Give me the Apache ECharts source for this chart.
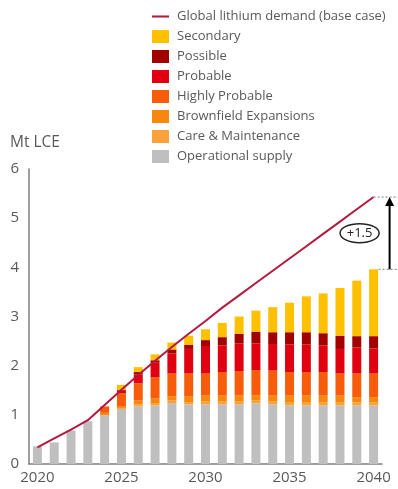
<!DOCTYPE html>
<html>
<head>
<meta charset="utf-8">
<script src="https://cdn.jsdelivr.net/npm/echarts@6/dist/echarts.min.js"></script>
<style>
  html, body { margin: 0; padding: 0; background: #fff; }
  #chart { width: 398px; height: 489px; }
</style>
</head>
<body>
<div id="chart"></div>
<script>
// Lithium supply outlook vs. demand, Mt LCE
const years = ['2020','2021','2022','2023','2024','2025','2026','2027','2028','2029','2030',
               '2031','2032','2033','2034','2035','2036','2037','2038','2039','2040'];

const operational = [0.36,0.44,0.68,0.87,0.99,1.12,1.17,1.19,1.24,1.21,1.21,1.21,1.21,1.23,1.21,1.19,1.19,1.19,1.19,1.19,1.19];
const careMaint   = [0,0,0,0,0,0.02,0.04,0.05,0.05,0.05,0.06,0.06,0.06,0.06,0.06,0.07,0.07,0.07,0.07,0.06,0.06];
const brownfield  = [0,0,0,0,0.05,0.04,0.08,0.09,0.09,0.11,0.12,0.12,0.12,0.11,0.12,0.13,0.13,0.13,0.13,0.11,0.11];
const highlyProb  = [0,0,0,0,0.13,0.26,0.35,0.43,0.46,0.47,0.45,0.48,0.50,0.51,0.51,0.48,0.48,0.48,0.45,0.48,0.48];
const probable    = [0,0,0,0,0,0.05,0.18,0.30,0.41,0.50,0.56,0.54,0.56,0.54,0.54,0.56,0.56,0.54,0.50,0.53,0.51];
const possible    = [0,0,0,0,0,0.02,0.05,0.05,0.08,0.08,0.12,0.17,0.20,0.24,0.24,0.25,0.25,0.25,0.27,0.23,0.25];
const secondary   = [0,0,0,0,0,0.10,0.10,0.12,0.14,0.19,0.22,0.29,0.35,0.43,0.51,0.60,0.73,0.81,0.97,1.13,1.36];
const demand      = [0.34,0.52,0.70,0.89,1.20,1.51,1.81,2.10,2.38,2.65,2.91,3.18,3.43,3.68,3.93,4.18,4.43,4.68,4.93,5.18,5.43];

const yTicks = [0,1,2,3,4,5,6];
const gapLabel = '+1.5';

const FONT = "'Open Sans', 'Noto Sans', sans-serif";
const TEXT = '#595959';
const LINE_NAME = 'Global lithium demand (base case)';

const stackDefs = [
  ['Operational supply',    operational, '#bfbfbf'],
  ['Care & Maintenance',    careMaint,   '#f9a23a'],
  ['Brownfield Expansions', brownfield,  '#f7870f'],
  ['Highly Probable',       highlyProb,  '#f65c0a'],
  ['Probable',              probable,    '#e1000f'],
  ['Possible',              possible,    '#a30000'],
  ['Secondary',             secondary,   '#ffc000']
];

const series = stackDefs.map(([name, data, color]) => ({
  name, type: 'bar', stack: 'supply', data,
  barWidth: 9,
  itemStyle: { color },
  emphasis: { disabled: true },
  z: 2
}));
series.push({
  name: LINE_NAME, type: 'line', data: demand,
  symbol: 'none', smooth: false,
  lineStyle: { color: '#b4193f', width: 2 },
  itemStyle: { color: '#b4193f' },
  z: 5
});

const legendData = [{ name: LINE_NAME, icon: 'path://M0,0H18V2.2H0Z' }]
  .concat(stackDefs.slice().reverse().map(d => ({ name: d[0], icon: 'rect' })));

const chart = echarts.init(document.getElementById('chart'), null, { renderer: 'canvas' });
chart.setOption({
  animation: false,
  backgroundColor: '#fff',
  textStyle: { fontFamily: FONT },
  title: {
    text: 'Mt LCE', left: 5, top: 130,
    textStyle: { fontFamily: FONT, fontSize: 15.5, fontWeight: 'normal', color: TEXT }
  },
  legend: {
    orient: 'vertical', left: 147, top: 5,
    itemWidth: 17, itemHeight: 13, itemGap: 7,
    selectedMode: false,
    textStyle: { fontFamily: FONT, fontSize: 13, color: TEXT, padding: [0, 0, 0, 3] },
    data: legendData
  },
  grid: { left: 29, right: 16, top: 169, bottom: 25, containLabel: false },
  xAxis: {
    type: 'category', data: years, boundaryGap: true,
    axisLine: { lineStyle: { color: '#7f7f7f', width: 1.5 } },
    axisTick: { show: false },
    axisLabel: { interval: 4, color: TEXT, fontSize: 15, fontFamily: FONT, margin: 6 }
  },
  yAxis: {
    type: 'value', min: yTicks[0], max: yTicks[yTicks.length - 1], interval: 1,
    axisLine: { show: true, lineStyle: { color: '#7f7f7f', width: 1.5 } },
    axisTick: { show: false },
    splitLine: { show: false },
    axisLabel: { color: TEXT, fontSize: 15, fontFamily: FONT, margin: 10 }
  },
  series
});

// Gap annotation between demand and total supply in the final year
function drawGap() {
  const last = years.length - 1;
  const totalSupply = stackDefs.reduce((s, d) => s + d[1][last], 0);
  const top = chart.convertToPixel({ xAxisIndex: 0, yAxisIndex: 0 }, [years[last], demand[last]]);
  const bot = chart.convertToPixel({ xAxisIndex: 0, yAxisIndex: 0 }, [years[last], totalSupply]);
  const ax = top[0] + 16;
  const cx = top[0] - 14;
  const cy = (top[1] + bot[1]) / 2;
  const dash = { stroke: '#999', lineWidth: 1.2, lineDash: [2, 2] };
  chart.setOption({
    graphic: [
      { type: 'line', shape: { x1: top[0], y1: top[1], x2: 398, y2: top[1] }, style: dash, z: 10 },
      { type: 'line', shape: { x1: bot[0] + 5, y1: bot[1], x2: 398, y2: bot[1] }, style: dash, z: 10 },
      { type: 'line', shape: { x1: ax, y1: bot[1], x2: ax, y2: top[1] + 8 },
        style: { stroke: '#000', lineWidth: 2 }, z: 11 },
      { type: 'polygon', shape: { points: [[ax - 4.5, top[1] + 9], [ax + 4.5, top[1] + 9], [ax, top[1]]] },
        style: { fill: '#000' }, z: 11 },
      { type: 'ellipse', shape: { cx, cy, rx: 19.5, ry: 9.5 },
        style: { fill: '#fff', stroke: '#222', lineWidth: 1.5 }, z: 11 },
      { type: 'text', x: cx, y: cy,
        style: { text: gapLabel, fill: '#222', font: "13px " + FONT, align: 'center', verticalAlign: 'middle' }, z: 12 }
    ]
  });
}
drawGap();
</script>
</body>
</html>
